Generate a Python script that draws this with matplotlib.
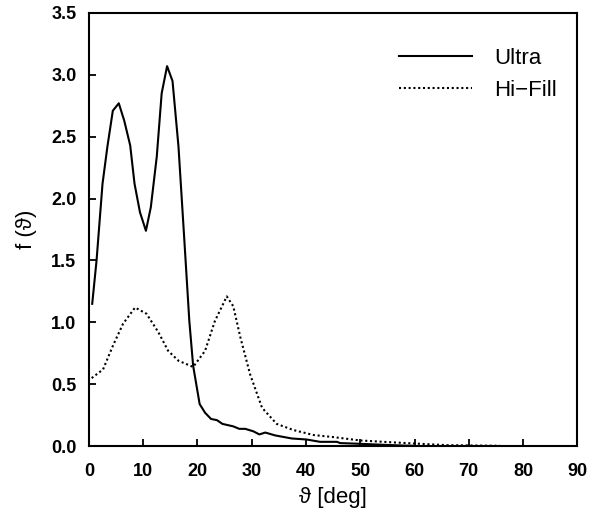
import matplotlib.pyplot as plt
import numpy as np

plt.rcParams['font.family'] = ['Liberation Sans', 'DejaVu Sans']

# Ultra distribution
ultra_deg = [0.6, 1.4, 2.5, 3.4, 4.4, 5.5, 6.5, 7.6, 8.4, 9.4, 10.5, 11.4, 12.5, 13.4,
             14.4, 15.4, 16.5, 17.5, 18.5, 19.2, 20.4, 21.4, 22.5, 23.6, 24.6, 26.6,
             27.7, 28.8, 30.3, 31.4, 32.5, 34.3, 37.4, 40.1, 42.6, 45.7, 46.3, 50.0,
             54.9, 58.0, 60.0]
ultra_f = [1.15, 1.50, 2.12, 2.42, 2.71, 2.77, 2.63, 2.43, 2.12, 1.89, 1.74, 1.93, 2.34, 2.85,
           3.07, 2.95, 2.42, 1.72, 1.01, 0.65, 0.34, 0.27, 0.22, 0.21, 0.18, 0.16,
           0.14, 0.14, 0.12, 0.095, 0.11, 0.087, 0.062, 0.054, 0.035, 0.035, 0.025, 0.019,
           0.01, 0.005, 0.003]

# Hi-Fill distribution
hifill_deg = [0.5, 2.6, 4.5, 6.3, 8.5, 10.6, 12.8, 14.6, 16.5, 19.2, 21.4, 23.2, 25.4,
              26.6, 27.9, 29.7, 31.9, 34.6, 37.7, 41.4, 45.1, 50.0, 55.5, 59.8, 66.0, 75.8]
hifill_f = [0.55, 0.62, 0.82, 0.99, 1.12, 1.07, 0.92, 0.77, 0.69, 0.64, 0.77, 1.01, 1.21,
            1.13, 0.88, 0.58, 0.31, 0.18, 0.13, 0.09, 0.073, 0.046, 0.032, 0.022, 0.008, 0.003]

fig = plt.figure(figsize=(5.97, 5.17), dpi=100)
ax = fig.add_axes([0.149, 0.137, 0.818, 0.838])

ax.plot(ultra_deg, ultra_f, color='black', lw=1.5, label='Ultra')
ax.plot(hifill_deg, hifill_f, color='black', lw=1.5, ls=(0, (1, 1.3)), label='Hi\u2212Fill')

ax.set_xlim(0, 90)
ax.set_ylim(0, 3.5)
ax.set_xticks(np.arange(0, 91, 10))
ax.set_yticks(np.arange(0, 3.51, 0.5))
ax.set_yticklabels(['%.1f' % v for v in np.arange(0, 3.51, 0.5)])
ax.tick_params(direction='in', length=5, width=1.3, labelsize=13)
ax.tick_params(axis='x', pad=12)
ax.tick_params(axis='y', pad=9)
for lab in ax.get_xticklabels() + ax.get_yticklabels():
    lab.set_fontweight('bold')
for s in ax.spines.values():
    s.set_linewidth(1.5)

ax.set_xlabel('\u03d1 [deg]', fontsize=16, labelpad=5)
ax.set_ylabel('f (\u03d1)', fontsize=16, labelpad=10)

ax.legend(loc='upper right', frameon=False, fontsize=16, handlelength=3.3,
          handletextpad=1.0, labelspacing=0.5, bbox_to_anchor=(1.0, 0.965))

fig.savefig('out.png', dpi=100)
